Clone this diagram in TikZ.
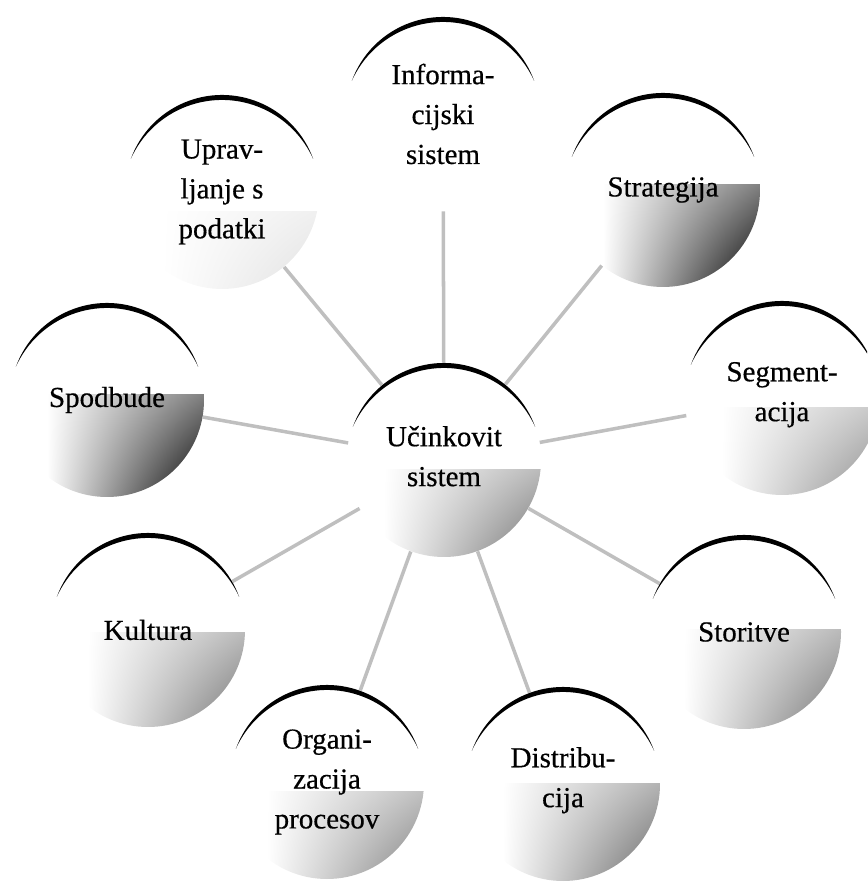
\documentclass[tikz,border=0pt]{standalone}
\usepackage{fontspec}
\setmainfont{Liberation Serif}
\newfontfamily\scanfont{Liberation Serif}[FakeBold=0.5]
\usetikzlibrary{backgrounds,shadings,calc}
\tikzset{
  bubble/.style={circle, minimum size=3.88cm, inner sep=0pt, align=center,
    font=\scanfont\fontsize{16.5}{22.7}\selectfont},
  low/.style={text height=1.05cm},
  spoke/.style={draw=gray!50, line width=2pt}
}
\begin{document}
\begin{tikzpicture}
\pgfmathsetmacro\r{1.94}
\useasboundingbox (0,0) rectangle (17.34,17.68);
\clip (0,0) rectangle (17.34,17.68);
\node[bubble,low] (sys) at (8.88,8.48) {Učinkovit\\sistem};
\node[bubble] (info) at (8.86,15.40) {Informa-\\cijski\\sistem};
\node[bubble] (uprav) at (4.44,13.84) {Uprav-\\ljanje s\\podatki};
\node[bubble] (strat) at (13.26,13.88) {Strategija};
\node[bubble,low] (segm) at (15.64,9.72) {Segment-\\acija};
\node[bubble] (spod) at (2.14,9.68) {Spodbude};
\node[bubble] (kult) at (2.96,5.08) {Kultura};
\node[bubble] (org) at (6.54,2.04) {Organi-\\zacija\\procesov};
\node[bubble,low] (distr) at (11.26,2.00) {Distribu-\\cija};
\node[bubble] (stor) at (14.88,5.04) {Storitve};
\begin{scope}[on background layer]
\foreach \n in {info,uprav,strat,segm,spod,kult,org,distr,stor} \draw[spoke] (sys) -- (\n);
\foreach \n/\d/\t in {sys/55/-0.2,uprav/12/-0.4,strat/100/0.1,segm/45/-0.2,spod/100/0.1,kult/55/-0.05,org/50/-0.2,distr/60/0,stor/55/0.05} {
  \pgfmathtruncatemacro\a{0.5*\d}
  \begin{scope}
  \clip (\n.center) circle (\r);
  \shade[upper left=white, lower left=white, upper right=black!\a, lower right=black!\d] ($(\n.center)+(-1.2,\t)$) rectangle ($(\n.center)+(\r,-\r)$);
  \end{scope}
}
\end{scope}
\foreach \n in {sys,info,uprav,strat,segm,spod,kult,org,distr,stor}
  \fill (\n.center) ++(20:\r) arc[start angle=20, end angle=160, radius=\r] arc[start angle=155.7, end angle=24.3, radius=2] -- cycle;
\end{tikzpicture}
\end{document}
